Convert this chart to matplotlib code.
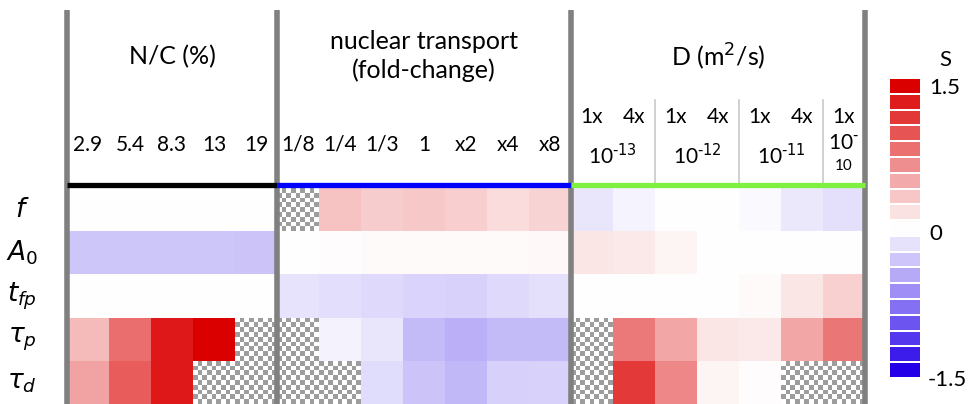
import numpy as np
import matplotlib.pyplot as plt
from matplotlib.colors import LinearSegmentedColormap

nan = np.nan

row_labels = [r"$f$", r"$A_{\mathit{0}}$", r"$t_{fp}$", r"$\tau_p$", r"$\tau_d$"]

nc_labels = ["2.9", "5.4", "8.3", "13", "19"]
nt_labels = ["1/8", "1/4", "1/3", "1", "x2", "x4", "x8"]
d_mult = ["1x", "4x", "1x", "4x", "1x", "4x", "1x"]
d_exps = ["-13", "-12", "-11"]

# sensitivity S, rows = f, A0, t_fp, tau_p, tau_d
nc_vals = [
    [0.0, 0.0, 0.0, 0.0, 0.0],
    [-0.33, -0.33, -0.33, -0.33, -0.34],
    [0.0, 0.01, 0.01, 0.0, 0.0],
    [0.40, 0.85, 1.35, 1.50, nan],
    [0.55, 0.95, 1.35, nan, nan],
]
nt_vals = [
    [nan, 0.36, 0.30, 0.32, 0.29, 0.21, 0.25],
    [0.01, 0.02, 0.03, 0.03, 0.03, 0.03, 0.04],
    [-0.16, -0.19, -0.22, -0.25, -0.26, -0.22, -0.18],
    [nan, -0.08, -0.15, -0.40, -0.46, -0.40, -0.40],
    [nan, nan, -0.20, -0.35, -0.42, -0.28, -0.26],
]
d_vals = [
    [-0.15, -0.07, 0.0, 0.0, -0.03, -0.13, -0.18],
    [0.15, 0.13, 0.06, 0.0, 0.0, 0.0, 0.0],
    [0.01, 0.0, 0.0, 0.01, 0.03, 0.15, 0.28],
    [nan, 0.78, 0.52, 0.15, 0.14, 0.52, 0.80],
    [nan, 1.15, 0.70, 0.06, 0.02, nan, nan],
]

plt.rcParams["font.family"] = ["Lato", "DejaVu Sans"]
plt.rcParams["mathtext.fontset"] = "dejavusans"

cmap = LinearSegmentedColormap.from_list(
    "s", [(0.14, 0.0, 0.91), (1, 1, 1), (0.86, 0.0, 0.0)])
vmin, vmax = -1.5, 1.5

W, H = 968, 404
fig = plt.figure(figsize=(W / 100, H / 100), dpi=100)
ax = fig.add_axes([67 / W, 0, 798 / W, 216 / H])
ax.axis("off")

vals = np.hstack([np.array(nc_vals), np.array(nt_vals), np.array(d_vals)])
nrow, ncol = vals.shape

# checkerboard behind missing cells
k = 9
checker = np.indices((nrow * k, ncol * k)).sum(axis=0) % 2
ax.imshow(checker, cmap="gray", vmin=-1.6, vmax=1, extent=[0, ncol, nrow, 0],
          interpolation="nearest", aspect="auto", zorder=0)
ax.imshow(np.ma.masked_invalid(vals), cmap=cmap, vmin=vmin, vmax=vmax,
          extent=[0, ncol, nrow, 0], interpolation="nearest", aspect="auto", zorder=1)
ax.set_xlim(0, ncol)
ax.set_ylim(nrow, 0)

# section boundaries
bounds = [0, len(nc_labels), len(nc_labels) + len(nt_labels), ncol]
for b in bounds:
    ax.plot([b, b], [-4.12, 5], color="#808080", lw=4, clip_on=False, zorder=3,
            solid_capstyle="butt")
sec_colors = ["black", "#0000ff", "#80f040"]
for i, c in enumerate(sec_colors):
    ax.plot([bounds[i], bounds[i + 1]], [-0.07, -0.07], color=c, lw=3.8,
            clip_on=False, zorder=4, solid_capstyle="butt")

# row labels
for i, lab in enumerate(row_labels):
    ax.text(-1.07, i + 0.5, lab, fontsize=19, ha="center", va="center",
            clip_on=False)

# headers
ax.text((bounds[0] + bounds[1]) / 2, -3.05, "N/C (%)", fontsize=18,
        ha="center", va="center")
ax.text((bounds[1] + bounds[2]) / 2, -3.05, "nuclear transport\n(fold-change)",
        fontsize=18, ha="center", va="center", linespacing=1.3)
ax.text((bounds[2] + bounds[3]) / 2, -3.05, r"D (m$^2$/s)", fontsize=18,
        ha="center", va="center")

for j, lab in enumerate(nc_labels + nt_labels):
    ax.text(j + 0.5, -1.0, lab, fontsize=15, ha="center", va="center")

for j, lab in enumerate(d_mult):
    ax.text(bounds[2] + j + 0.5, -1.64, lab, fontsize=15, ha="center", va="center")
for j, e in enumerate(d_exps):
    ax.text(bounds[2] + 2 * j + 1, -0.76, r"10$^{\text{-}%s}$" % e[1:], fontsize=15,
            ha="center", va="center")
ax.text(bounds[2] + 6.5, -1.04, r"10$^{\text{-}}$", fontsize=15, ha="center", va="center")
ax.text(bounds[2] + 6.5, -0.5, "10", fontsize=11, ha="center", va="center")
for j in [2, 4, 6]:
    ax.plot([bounds[2] + j, bounds[2] + j], [-2.04, -0.12], color="#c8c8c8",
            lw=1.2, clip_on=False, zorder=2)

# colour bar
levels = np.linspace(vmin, vmax, 19)
step = levels[1] - levels[0]
cax = fig.add_axes([889 / W, (404 - 378) / H, 32 / W, 300 / H])
edges = np.append(levels - step / 2, levels[-1] + step / 2)
cax.pcolormesh([0, 1], edges, levels.reshape(-1, 1), cmap=cmap, vmin=vmin,
               vmax=vmax, edgecolors="white", linewidth=0.2)
cax.set_ylim(edges[0], edges[-1])
cax.set_xlim(0, 1)
for s in cax.spines.values():
    s.set_visible(False)
cax.set_xticks([])
cax.set_yticks([])
cax.text(1.25, 0.965, "1.5", transform=cax.transAxes, fontsize=16, va="center")
cax.text(1.25, 0.48, "0", transform=cax.transAxes, fontsize=16, va="center")
cax.text(1.2, -0.005, "-1.5", transform=cax.transAxes, fontsize=16, va="center")
cax.text(1.75, 1.06, "S", transform=cax.transAxes, fontsize=16,
         ha="center", va="center")

fig.savefig("out.png", dpi=100)
